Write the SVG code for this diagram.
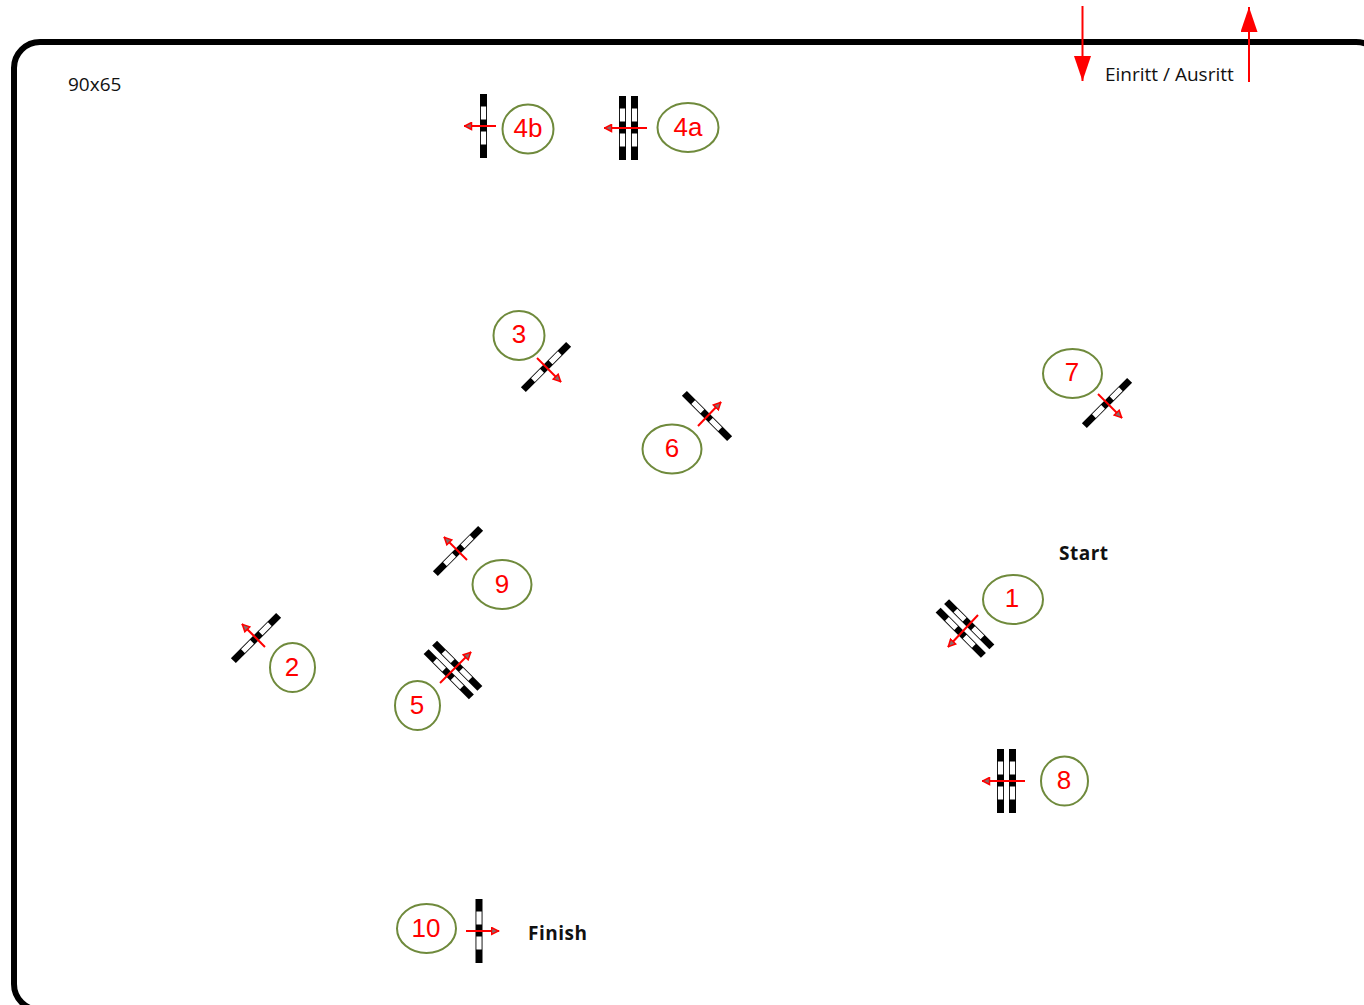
<svg xmlns="http://www.w3.org/2000/svg" width="1364" height="1005" viewBox="0 0 1364 1005">
<style>
.lb{fill:none;stroke:#6f8a3c;stroke-width:2}
.n{font:26px "Liberation Sans",Arial,sans-serif;fill:#f00;text-anchor:middle}
.t{font:19px "Open Sans","Noto Sans",sans-serif;fill:#111}
.b{font-weight:700;letter-spacing:.5px}
.a{stroke:#f00;stroke-width:2;fill:none;marker-end:url(#sm)}
.A{stroke:#f00;stroke-width:2;fill:none;marker-end:url(#lg)}
</style>
<defs>
<marker id="sm" viewBox="0 0 9 9" refX="8.500" refY="4.500" markerWidth="9" markerHeight="9" markerUnits="userSpaceOnUse" orient="auto"><path d="M1 1L8 4.500L1 8Z" fill="#8a6a6a" stroke="#f00" stroke-width="1.500"/></marker>
<marker id="lg" viewBox="0 0 25 17" refX="25" refY="8.500" markerWidth="25" markerHeight="17" markerUnits="userSpaceOnUse" orient="auto"><path d="M0 0L25 8.500L0 17Z" fill="#f00"/></marker>
<g id="bar"><rect x="-3.500" y="-32" width="7" height="64" fill="#000"/><rect x="-2.600" y="-19.500" width="5.200" height="13" fill="#fff"/><rect x="-2.600" y="5.500" width="5.200" height="13" fill="#fff"/></g>
<g id="dbl"><use href="#bar" x="-6"/><use href="#bar" x="6"/></g>
</defs>
<rect width="1364" height="1005" fill="#fff"/>
<rect id="arena" x="14" y="42" width="1368" height="968" rx="26" ry="26" fill="none" stroke="#000" stroke-width="6"/>
<text class="t" x="68" y="91">90x65</text>
<text class="t" x="1105" y="81">Einritt / Ausritt</text>
<text class="t b" x="1059" y="560">Start</text>
<text class="t b" x="528" y="940">Finish</text>
<g id="n4b"><use href="#bar" transform="translate(483.500 126)"/><ellipse class="lb" cx="528" cy="129" rx="25.500" ry="24.500"/><text class="n" x="528" y="137">4b</text></g>
<g id="n4a"><use href="#dbl" transform="translate(628.500 128)"/><ellipse class="lb" cx="688" cy="127.500" rx="30.500" ry="24.500"/><text class="n" x="688" y="136">4a</text></g>
<g id="n3"><use href="#bar" transform="translate(546 367) rotate(45)"/><ellipse class="lb" cx="519" cy="335.500" rx="25.500" ry="24.500"/><text class="n" x="519" y="343">3</text></g>
<g id="n6"><use href="#bar" transform="translate(707 416) rotate(-45)"/><ellipse class="lb" cx="672" cy="449" rx="29.500" ry="24.500"/><text class="n" x="672" y="457">6</text></g>
<g id="n7"><use href="#bar" transform="translate(1107 403) rotate(45)"/><ellipse class="lb" cx="1072.500" cy="373.500" rx="29.500" ry="24.500"/><text class="n" x="1072" y="381">7</text></g>
<g id="n9"><use href="#bar" transform="translate(458 551) rotate(45)"/><ellipse class="lb" cx="502" cy="584.500" rx="29.500" ry="24.500"/><text class="n" x="502" y="593">9</text></g>
<g id="n2"><use href="#bar" transform="translate(256 638) rotate(45)"/><ellipse class="lb" cx="292.500" cy="667.500" rx="22.500" ry="24.500"/><text class="n" x="292" y="676">2</text></g>
<g id="n5"><use href="#dbl" transform="translate(453 670) rotate(-45)"/><ellipse class="lb" cx="417.500" cy="705.500" rx="22.500" ry="24.500"/><text class="n" x="417" y="714">5</text></g>
<g id="n1"><use href="#dbl" transform="translate(965 628.500) rotate(-45)"/><ellipse class="lb" cx="1013" cy="599.500" rx="30" ry="24.500"/><text class="n" x="1012" y="607">1</text></g>
<g id="n8"><use href="#dbl" transform="translate(1006.500 781)"/><ellipse class="lb" cx="1064.500" cy="781" rx="23.500" ry="24.500"/><text class="n" x="1064" y="789">8</text></g>
<g id="n10"><use href="#bar" transform="translate(479 931)"/><ellipse class="lb" cx="426.500" cy="928.500" rx="29.500" ry="24.500"/><text class="n" x="426" y="937">10</text></g>
<g id="connectors">
<path class="A" d="M1082.500 6V81"/><path class="A" d="M1249 82V7"/>
<path class="a" d="M496 126H464"/><path class="a" d="M647 128H604"/>
<path class="a" d="M537 358L561 382"/><path class="a" d="M698 426L721 402"/>
<path class="a" d="M1098 394L1122 418"/><path class="a" d="M467 560L444 537"/>
<path class="a" d="M265 647L242 624"/><path class="a" d="M440 683L471 652"/>
<path class="a" d="M978 615L948 647"/><path class="a" d="M1025 781H982"/>
<path class="a" d="M466 931H499"/>
</g>
</svg>
